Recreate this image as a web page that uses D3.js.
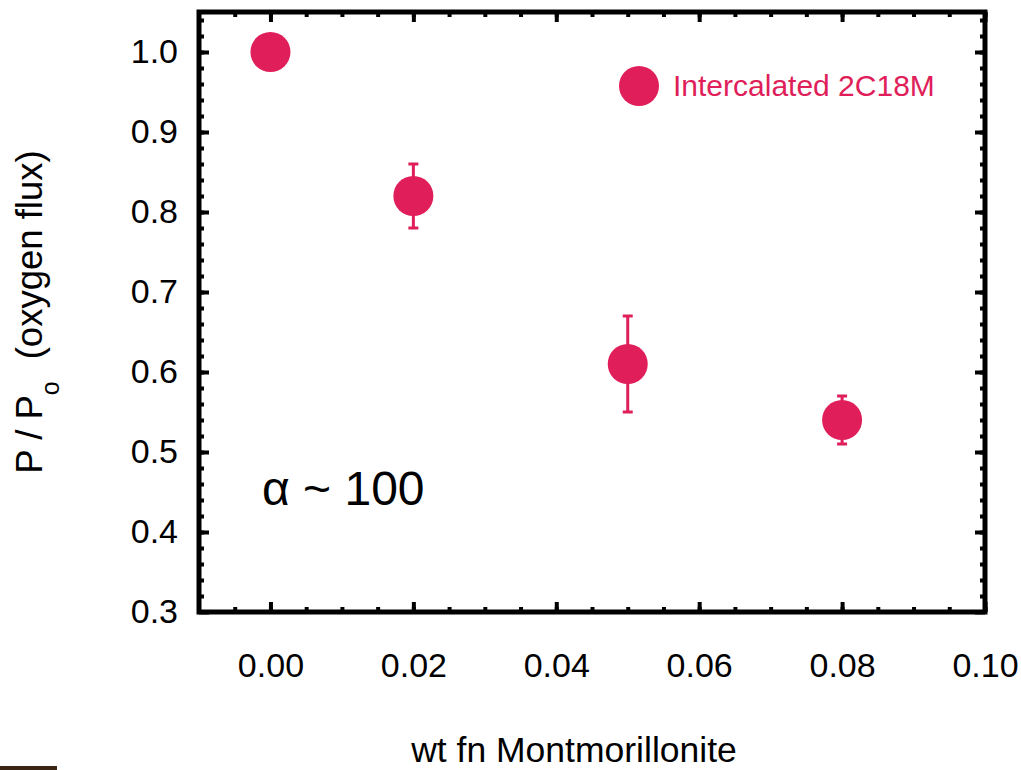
<!DOCTYPE html>
<html>
<head>
<meta charset="utf-8">
<script src="https://cdn.jsdelivr.net/npm/d3@7"></script>
<style>
  body { margin: 0; background: #fff; }
  svg text { font-family: "Liberation Sans", Arial, sans-serif; fill: #000; }
</style>
</head>
<body>
<div class="content"></div>
<script>
//--> Data
const xValues = [0, 0.02, 0.05, 0.08];
const yValues = [1.0, 0.82, 0.61, 0.54];
const yErrors = [0, 0.04, 0.06, 0.03];
const xTickValues = [0, 0.02, 0.04, 0.06, 0.08, 0.1];
const yTickValues = [0.3, 0.4, 0.5, 0.6, 0.7, 0.8, 0.9, 1.0];
const seriesName = "Intercalated 2C18M";

//--> Set up main elements
const width = 1021;
const height = 770;
const color = "#e01e5a";

const plot = { left: 199, right: 985, top: 12, bottom: 612 };

const x = d3.scaleLinear().domain([-0.01, 0.1]).range([plot.left, plot.right]);
const y = d3.scaleLinear().domain([0.3, 1.05]).range([plot.bottom, plot.top]);

const svg = d3
  .select(".content")
  .append("svg")
  .attr("width", width)
  .attr("height", height);

const xMinor = d3.range(-0.005, 0.1001, 0.005);
const yMinor = d3.range(0.32, 1.0501, 0.02);

//--> Axes (ticks point inward)
function styleAxis(g) {
  g.select(".domain").remove();
  g.selectAll("line").attr("stroke", "#000").attr("stroke-width", 4);
}

svg.append("g")
  .attr("transform", `translate(0,${plot.bottom})`)
  .call(d3.axisBottom(x).tickValues(xMinor).tickSize(-5).tickFormat(""))
  .call(styleAxis);
svg.append("g")
  .attr("transform", `translate(0,${plot.bottom})`)
  .call(d3.axisBottom(x).tickValues(xTickValues).tickSizeInner(-10).tickSizeOuter(0)
    .tickPadding(41).tickFormat(d3.format(".2f")))
  .call(styleAxis)
  .call(g => g.selectAll("text").attr("font-size", 34).attr("fill", "#000"));

svg.append("g")
  .attr("transform", `translate(0,${plot.top})`)
  .call(d3.axisTop(x).tickValues(xMinor).tickSize(-5).tickFormat(""))
  .call(styleAxis);
svg.append("g")
  .attr("transform", `translate(0,${plot.top})`)
  .call(d3.axisTop(x).tickValues(xTickValues).tickSize(-10).tickFormat(""))
  .call(styleAxis);

svg.append("g")
  .attr("transform", `translate(${plot.left},0)`)
  .call(d3.axisLeft(y).tickValues(yMinor).tickSize(-5).tickFormat(""))
  .call(styleAxis);
svg.append("g")
  .attr("transform", `translate(${plot.left},0)`)
  .call(d3.axisLeft(y).tickValues(yTickValues).tickSizeInner(-10).tickSizeOuter(0)
    .tickPadding(21).tickFormat(d3.format(".1f")))
  .call(styleAxis)
  .call(g => g.selectAll("text").attr("font-size", 34).attr("fill", "#000"));

svg.append("g")
  .attr("transform", `translate(${plot.right},0)`)
  .call(d3.axisRight(y).tickValues(yMinor).tickSize(-5).tickFormat(""))
  .call(styleAxis);
svg.append("g")
  .attr("transform", `translate(${plot.right},0)`)
  .call(d3.axisRight(y).tickValues(yTickValues).tickSize(-10).tickFormat(""))
  .call(styleAxis);

//--> Frame
svg.append("rect")
  .attr("x", plot.left)
  .attr("y", plot.top)
  .attr("width", plot.right - plot.left)
  .attr("height", plot.bottom - plot.top)
  .attr("fill", "none")
  .attr("stroke", "#000")
  .attr("stroke-width", 5);

//--> Axis titles
svg.append("text")
  .attr("x", 574)
  .attr("y", 762)
  .attr("text-anchor", "middle")
  .attr("font-size", 35.5)
  .text("wt fn Montmorillonite");

const yTitle = svg.append("text")
  .attr("transform", `translate(42,${(plot.top + plot.bottom) / 2}) rotate(-90)`)
  .attr("text-anchor", "middle")
  .attr("font-size", 36.5);
yTitle.append("tspan").text("P / P");
yTitle.append("tspan").attr("dy", 17).attr("font-size", 25).text("o");
yTitle.append("tspan").attr("dy", -17).attr("dx", 22).text("(oxygen flux)");

//--> Annotation
svg.append("text")
  .attr("x", 262)
  .attr("y", 505)
  .attr("font-size", 48)
  .text("\u03b1 ~ 100");

//--> Error bars
const points = xValues.map((d, i) => ({ x: d, y: yValues[i], e: yErrors[i] }));
const bars = svg.append("g").selectAll("g")
  .data(points.filter(d => d.e > 0))
  .join("g")
  .attr("stroke", color)
  .attr("stroke-width", 3);
bars.append("line")
  .attr("x1", d => x(d.x)).attr("x2", d => x(d.x))
  .attr("y1", d => y(d.y + d.e)).attr("y2", d => y(d.y - d.e));
bars.append("line")
  .attr("x1", d => x(d.x) - 5).attr("x2", d => x(d.x) + 5)
  .attr("y1", d => y(d.y + d.e)).attr("y2", d => y(d.y + d.e));
bars.append("line")
  .attr("x1", d => x(d.x) - 5).attr("x2", d => x(d.x) + 5)
  .attr("y1", d => y(d.y - d.e)).attr("y2", d => y(d.y - d.e));

//--> Points
svg.append("g").selectAll("circle")
  .data(points)
  .join("circle")
  .attr("cx", d => x(d.x))
  .attr("cy", d => y(d.y))
  .attr("r", 20)
  .attr("fill", color);

//--> Legend
svg.append("circle")
  .attr("cx", 639)
  .attr("cy", 86)
  .attr("r", 20)
  .attr("fill", color);
svg.append("text")
  .attr("x", 673)
  .attr("y", 96)
  .attr("font-size", 30)
  .style("fill", color)
  .text(seriesName);

//--> Dark strip at the bottom-left edge
svg.append("rect")
  .attr("x", 0)
  .attr("y", 766)
  .attr("width", 57)
  .attr("height", 4)
  .attr("fill", "#3a2414");
</script>
</body>
</html>
